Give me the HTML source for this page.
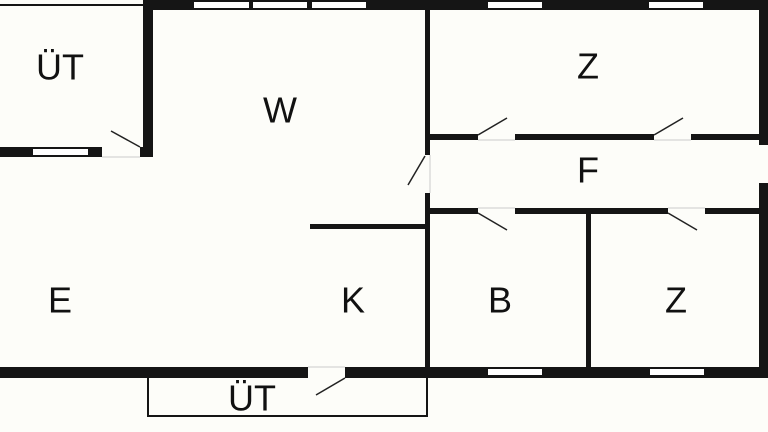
<!DOCTYPE html>
<html><head><meta charset="utf-8"><style>
html,body{margin:0;padding:0;background:#fdfdf9;}
svg{display:block}
text{font-family:"Liberation Sans",sans-serif;font-size:36px;fill:#111;text-anchor:middle;dominant-baseline:central}
</style></head><body>
<svg width="768" height="432" viewBox="0 0 768 432">
<rect width="768" height="432" fill="#fdfdf9"/>
<g fill="#151515">
<!-- top wall -->
<rect x="143" y="0" width="625" height="10"/>
<!-- thin line top ÜT -->
<rect x="0" y="4" width="143" height="2"/>
<!-- vertical wall ÜT/W -->
<rect x="143" y="0" width="10" height="157"/>
<!-- ÜT bottom wall -->
<rect x="0" y="147" width="102" height="10"/>
<rect x="140" y="147" width="13" height="10"/>
<!-- inner wall W / right -->
<rect x="425" y="10" width="5" height="145"/>
<rect x="425" y="193" width="5" height="177"/>
<!-- partial wall -->
<rect x="310" y="224" width="118" height="5"/>
<!-- right wall -->
<rect x="759" y="0" width="9" height="145"/>
<rect x="759" y="183" width="9" height="190"/>
<!-- Z/F wall -->
<rect x="430" y="134" width="48" height="6"/>
<rect x="515" y="134" width="139" height="6"/>
<rect x="691" y="134" width="69" height="6"/>
<!-- F bottom wall -->
<rect x="430" y="208" width="48" height="6"/>
<rect x="515" y="208" width="153" height="6"/>
<rect x="705" y="208" width="55" height="6"/>
<!-- B/Z divider -->
<rect x="586" y="214" width="5" height="155"/>
<!-- bottom wall -->
<rect x="0" y="367" width="308" height="11"/>
<rect x="345" y="367" width="423" height="11"/>
</g>
<!-- windows -->
<g fill="#fff">
<rect x="194" y="2" width="55" height="6"/>
<rect x="253" y="2" width="54" height="6"/>
<rect x="312" y="2" width="54" height="6"/>
<rect x="488" y="2" width="54" height="6"/>
<rect x="649" y="2" width="54" height="6"/>
<rect x="33" y="149" width="55" height="6"/>
<rect x="488" y="369" width="54" height="6"/>
<rect x="650" y="369" width="54" height="6"/>
</g>
<!-- door swings -->
<g stroke="#222" stroke-width="1.5" fill="none">
<line x1="111" y1="131" x2="140" y2="147"/>
<line x1="425" y1="156" x2="408" y2="185"/>
<line x1="478" y1="135" x2="507" y2="118"/>
<line x1="654" y1="135" x2="683" y2="118"/>
<line x1="478" y1="213" x2="507" y2="230"/>
<line x1="668" y1="213" x2="697" y2="230"/>
<line x1="345" y1="378" x2="316" y2="395"/>
</g>
<g stroke="#ccc" stroke-width="1" fill="none">
<line x1="102" y1="157" x2="140" y2="157"/>
<line x1="430" y1="155" x2="430" y2="193"/>
<line x1="478" y1="140" x2="515" y2="140"/>
<line x1="654" y1="140" x2="691" y2="140"/>
<line x1="478" y1="208" x2="515" y2="208"/>
<line x1="668" y1="208" x2="705" y2="208"/>
<line x1="308" y1="367" x2="345" y2="367"/>
</g>
<!-- lower ÜT box -->
<path d="M148 378 V416 H427 V378" stroke="#151515" stroke-width="2" fill="none"/>
<text x="60" y="67">ÜT</text>
<text x="280" y="110">W</text>
<text x="588" y="66">Z</text>
<text x="588" y="170">F</text>
<text x="60" y="300">E</text>
<text x="353" y="300">K</text>
<text x="500" y="300">B</text>
<text x="676" y="300">Z</text>
<text x="252" y="398">ÜT</text>
</svg>
</body></html>
